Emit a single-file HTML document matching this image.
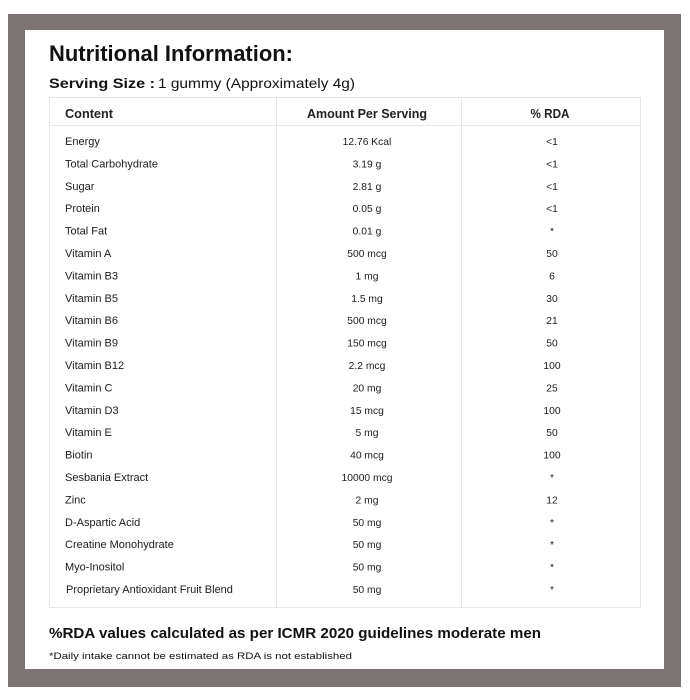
<!DOCTYPE html>
<html>
<head>
<meta charset="utf-8">
<style>
html,body{margin:0;padding:0;background:#fff;}
svg{display:block;}
text{font-family:"Liberation Sans",Arial,sans-serif;fill:#1c1c1c;}
.b{font-size:11px;}
.v{font-size:10.3px;text-anchor:middle;}
</style>
</head>
<body>
<svg width="690" height="700" viewBox="0 0 690 700" xmlns="http://www.w3.org/2000/svg">
<rect x="0" y="0" width="690" height="700" fill="#ffffff"/>
<rect x="8" y="14" width="673" height="673" fill="#7c7472"/>
<rect x="25" y="30" width="639" height="639" fill="#ffffff"/>

<text x="49" y="61" font-size="22" font-weight="bold" textLength="244" lengthAdjust="spacingAndGlyphs" style="fill:#111">Nutritional Information:</text>
<text x="49" y="88" font-size="14" font-weight="bold" textLength="106" lengthAdjust="spacingAndGlyphs" style="fill:#111">Serving Size :</text>
<text x="158" y="88" font-size="14" textLength="197" lengthAdjust="spacingAndGlyphs" style="fill:#111">1 gummy (Approximately 4g)</text>

<g stroke="#e6e6e6" stroke-width="1" fill="none">
<rect x="49.5" y="97.5" width="591" height="510"/>
<line x1="49.5" y1="125.5" x2="640.5" y2="125.5"/>
<line x1="276.5" y1="97.5" x2="276.5" y2="607.5"/>
<line x1="461.5" y1="97.5" x2="461.5" y2="607.5"/>
</g>

<text x="65" y="118" font-size="12.5" font-weight="bold" textLength="48" lengthAdjust="spacingAndGlyphs" style="fill:#222">Content</text>
<text x="367" y="118" font-size="12.5" font-weight="bold" text-anchor="middle" textLength="120" lengthAdjust="spacingAndGlyphs" style="fill:#222">Amount Per Serving</text>
<text x="550" y="118" font-size="12.5" font-weight="bold" text-anchor="middle" textLength="39" lengthAdjust="spacingAndGlyphs" style="fill:#222">% RDA</text>

<g>
<text x="65" y="145" class="b">Energy</text><text x="367" y="145" class="v">12.76 Kcal</text><text x="552" y="145" class="v">&lt;1</text>
<text x="65" y="167.4" class="b">Total Carbohydrate</text><text x="367" y="167.4" class="v">3.19 g</text><text x="552" y="167.4" class="v">&lt;1</text>
<text x="65" y="189.8" class="b">Sugar</text><text x="367" y="189.8" class="v">2.81 g</text><text x="552" y="189.8" class="v">&lt;1</text>
<text x="65" y="212.2" class="b">Protein</text><text x="367" y="212.2" class="v">0.05 g</text><text x="552" y="212.2" class="v">&lt;1</text>
<text x="65" y="234.6" class="b">Total Fat</text><text x="367" y="234.6" class="v">0.01 g</text><text x="552" y="234.6" class="v">*</text>
<text x="65" y="257" class="b">Vitamin A</text><text x="367" y="257" class="v">500 mcg</text><text x="552" y="257" class="v">50</text>
<text x="65" y="279.4" class="b">Vitamin B3</text><text x="367" y="279.4" class="v">1 mg</text><text x="552" y="279.4" class="v">6</text>
<text x="65" y="301.8" class="b">Vitamin B5</text><text x="367" y="301.8" class="v">1.5 mg</text><text x="552" y="301.8" class="v">30</text>
<text x="65" y="324.2" class="b">Vitamin B6</text><text x="367" y="324.2" class="v">500 mcg</text><text x="552" y="324.2" class="v">21</text>
<text x="65" y="346.6" class="b">Vitamin B9</text><text x="367" y="346.6" class="v">150 mcg</text><text x="552" y="346.6" class="v">50</text>
<text x="65" y="369" class="b">Vitamin B12</text><text x="367" y="369" class="v">2.2 mcg</text><text x="552" y="369" class="v">100</text>
<text x="65" y="391.4" class="b">Vitamin C</text><text x="367" y="391.4" class="v">20 mg</text><text x="552" y="391.4" class="v">25</text>
<text x="65" y="413.8" class="b">Vitamin D3</text><text x="367" y="413.8" class="v">15 mcg</text><text x="552" y="413.8" class="v">100</text>
<text x="65" y="436.2" class="b">Vitamin E</text><text x="367" y="436.2" class="v">5 mg</text><text x="552" y="436.2" class="v">50</text>
<text x="65" y="458.6" class="b">Biotin</text><text x="367" y="458.6" class="v">40 mcg</text><text x="552" y="458.6" class="v">100</text>
<text x="65" y="481" class="b">Sesbania Extract</text><text x="367" y="481" class="v">10000 mcg</text><text x="552" y="481" class="v">*</text>
<text x="65" y="503.4" class="b">Zinc</text><text x="367" y="503.4" class="v">2 mg</text><text x="552" y="503.4" class="v">12</text>
<text x="65" y="525.8" class="b">D-Aspartic Acid</text><text x="367" y="525.8" class="v">50 mg</text><text x="552" y="525.8" class="v">*</text>
<text x="65" y="548.2" class="b">Creatine Monohydrate</text><text x="367" y="548.2" class="v">50 mg</text><text x="552" y="548.2" class="v">*</text>
<text x="65" y="570.6" class="b">Myo-Inositol</text><text x="367" y="570.6" class="v">50 mg</text><text x="552" y="570.6" class="v">*</text>
<text x="66" y="593" class="b">Proprietary Antioxidant Fruit Blend</text><text x="367" y="593" class="v">50 mg</text><text x="552" y="593" class="v">*</text>
</g>

<text x="49" y="638" font-size="15" font-weight="bold" textLength="492" lengthAdjust="spacingAndGlyphs" style="fill:#111">%RDA values calculated as per ICMR 2020 guidelines moderate men</text>
<text x="49" y="659" font-size="9.5" textLength="303" lengthAdjust="spacingAndGlyphs" style="fill:#111">*Daily intake cannot be estimated as RDA is not established</text>
</svg>
</body>
</html>
